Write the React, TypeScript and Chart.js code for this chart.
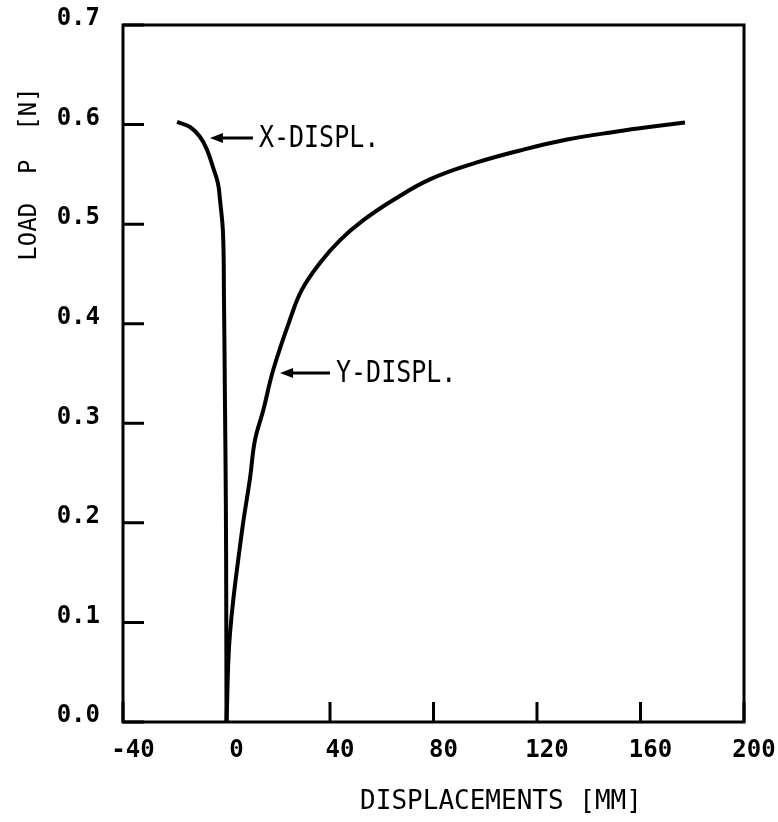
import React, { useEffect, useRef } from "react";
import { Chart, registerables } from "chart.js";

Chart.register(...registerables);

// ---- Data ----
// X-displacement curve, from its upper end down to the origin
const xDisplValues = [-19.1, -14.1, -10.2, -7.5, -5.2, -3.3, -2.5, -1.35, -0.97, -0.6, -0.25, -0.1, 0];
const xDisplLoads = [0.6026, 0.5976, 0.5875, 0.5745, 0.557, 0.541, 0.524, 0.491, 0.424, 0.323, 0.22, 0.12, 0];

// Y-displacement curve, from the origin to its upper end
const yDisplValues = [0, 1.35, 5.9, 9.1, 11.0, 14.2, 18.1, 24.5, 29.1, 36.1, 43.9, 52.9, 64.3, 78.6, 96.8, 113.4, 131.6, 150.9, 164.8, 177.2];
const yDisplLoads = [0, 0.089, 0.19, 0.245, 0.283, 0.313, 0.354, 0.404, 0.434, 0.461, 0.484, 0.504, 0.524, 0.545, 0.562, 0.574, 0.585, 0.593, 0.598, 0.602];

const xMin = -40;
const xMax = 200;
const xStep = 40;
const yMin = 0;
const yMax = 0.7;
const yStep = 0.1;

const xTitle = "DISPLACEMENTS [MM]";
const yTitle = "LOAD  P  [N]";

// annotations: label, arrow tip x, arrow tail x, load level
const annotationLabels = ["X-DISPL.", "Y-DISPL."];
const annotationTipX = [-6.4, 20.7];
const annotationTailX = [10.2, 40];
const annotationLoad = [0.5865, 0.3505];

const MONO = '"DejaVu Sans Mono", "Liberation Mono", monospace';

const toPoints = (xs: number[], ys: number[]) => xs.map((x, i) => ({ x, y: ys[i] }));

const decorPlugin = {
  id: "decor",
  afterDraw(chart: any) {
    const { ctx, chartArea: a, scales } = chart;
    const sx = scales.x;
    const sy = scales.y;
    ctx.save();
    ctx.strokeStyle = "#000";
    ctx.fillStyle = "#000";
    ctx.lineWidth = 3;
    ctx.lineCap = "butt";
    ctx.strokeRect(a.left, a.top, a.right - a.left, a.bottom - a.top);

    // inward tick marks
    ctx.beginPath();
    sy.ticks.forEach((t: any) => {
      const py = sy.getPixelForValue(t.value);
      ctx.moveTo(a.left, py);
      ctx.lineTo(a.left + 21, py);
    });
    sx.ticks.forEach((t: any) => {
      const px = sx.getPixelForValue(t.value);
      ctx.moveTo(px, a.bottom);
      ctx.lineTo(px, a.bottom - 20);
    });
    ctx.stroke();

    // annotations
    annotationLabels.forEach((label, i) => {
      const tip = sx.getPixelForValue(annotationTipX[i]);
      const tail = sx.getPixelForValue(annotationTailX[i]);
      const py = sy.getPixelForValue(annotationLoad[i]);
      ctx.lineWidth = 3;
      ctx.beginPath();
      ctx.moveTo(tip + 10, py);
      ctx.lineTo(tail, py);
      ctx.stroke();
      ctx.beginPath();
      ctx.moveTo(tip, py);
      ctx.lineTo(tip + 13, py - 5);
      ctx.lineTo(tip + 13, py + 5);
      ctx.closePath();
      ctx.fill();
      ctx.save();
      ctx.translate(tail + 6, py);
      ctx.scale(1, 1.2);
      ctx.font = `25px ${MONO}`;
      ctx.textAlign = "left";
      ctx.textBaseline = "middle";
      ctx.fillText(label, 0, 1);
      ctx.restore();
    });

    // axis titles
    ctx.font = `26px ${MONO}`;
    ctx.textAlign = "center";
    ctx.textBaseline = "middle";
    ctx.fillText(xTitle, 501, 802);

    ctx.save();
    ctx.translate(30, 174);
    ctx.rotate(-Math.PI / 2);
    ctx.font = `24px ${MONO}`;
    ctx.fillText(yTitle, 0, 0);
    ctx.restore();

    ctx.restore();
  },
};

export default function App() {
  const canvasRef = useRef<HTMLCanvasElement | null>(null);

  useEffect(() => {
    if (!canvasRef.current) return;
    const chart = new Chart(canvasRef.current, {
      type: "scatter",
      data: {
        datasets: [
          {
            label: "X-DISPL.",
            data: toPoints(xDisplValues, xDisplLoads),
            showLine: true,
            borderColor: "#000",
            backgroundColor: "#000",
            borderWidth: 4,
            pointRadius: 0,
            tension: 0.4,
          },
          {
            label: "Y-DISPL.",
            data: toPoints(yDisplValues, yDisplLoads),
            showLine: true,
            borderColor: "#000",
            backgroundColor: "#000",
            borderWidth: 4,
            pointRadius: 0,
            tension: 0.4,
          },
        ],
      },
      options: {
        animation: false,
        responsive: false,
        devicePixelRatio: 1,
        layout: { padding: { left: 0, right: 34, top: 25, bottom: 0 } },
        plugins: {
          legend: { display: false },
          tooltip: { enabled: false },
          title: { display: false },
        },
        scales: {
          x: {
            type: "linear",
            min: xMin,
            max: xMax,
            grid: { display: false, drawTicks: false },
            border: { display: false },
            ticks: {
              stepSize: xStep,
              color: "#000",
              font: { family: MONO, size: 24, weight: "bold" },
              padding: 14,
              labelOffset: 10,
              maxRotation: 0,
              callback: (v: any) => String(Math.round(Number(v))),
            },
            afterFit: (scale: any) => {
              scale.height = 100;
              scale.paddingLeft = 0;
              scale.paddingRight = 0;
            },
          },
          y: {
            type: "linear",
            min: yMin,
            max: yMax,
            grid: { display: false, drawTicks: false },
            border: { display: false },
            ticks: {
              stepSize: yStep,
              color: "#000",
              font: { family: MONO, size: 24, weight: "bold" },
              padding: 23,
              labelOffset: -6,
              callback: (v: any) => Number(v).toFixed(1),
            },
            afterFit: (scale: any) => {
              scale.width = 123;
              scale.paddingTop = 0;
              scale.paddingBottom = 0;
            },
          },
        },
      },
      plugins: [decorPlugin],
    });
    return () => chart.destroy();
  }, []);

  return (
    <div style={{ position: "fixed", left: 0, top: 0, width: 778, height: 822, background: "#fff" }}>
      <canvas ref={canvasRef} width={778} height={822} style={{ display: "block" }} />
    </div>
  );
}
